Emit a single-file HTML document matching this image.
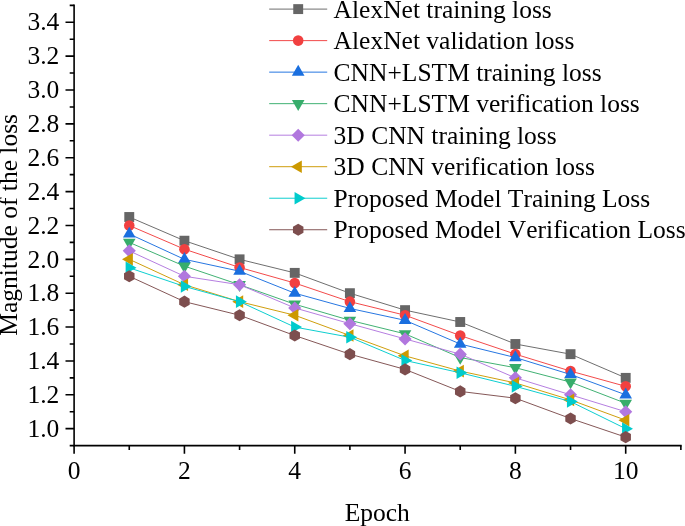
<!DOCTYPE html>
<html lang="en"><head><meta charset="utf-8"><title>Loss vs Epoch</title>
<style>html,body{margin:0;padding:0;background:#fff}body{width:685px;height:526px;overflow:hidden}svg{display:block}</style>
</head><body>
<svg width="685" height="526" viewBox="0 0 685 526" font-family="'Liberation Serif', serif" font-size="25.5px" fill="#000" style="font-kerning:none">
<rect width="685" height="526" fill="#fff"/>
<g><polyline points="129.26,217 184.42,240.71 239.58,259.34 294.74,272.88 349.9,293.2 405.06,310.14 460.22,321.99 515.38,344 570.54,354.16 625.7,377.87" fill="none" stroke="#666666" stroke-width="0.95"/>
<rect x="124.31" y="212.05" width="9.9" height="9.9" fill="#666666"/>
<rect x="179.47" y="235.76" width="9.9" height="9.9" fill="#666666"/>
<rect x="234.63" y="254.39" width="9.9" height="9.9" fill="#666666"/>
<rect x="289.79" y="267.93" width="9.9" height="9.9" fill="#666666"/>
<rect x="344.95" y="288.25" width="9.9" height="9.9" fill="#666666"/>
<rect x="400.11" y="305.19" width="9.9" height="9.9" fill="#666666"/>
<rect x="455.27" y="317.04" width="9.9" height="9.9" fill="#666666"/>
<rect x="510.43" y="339.05" width="9.9" height="9.9" fill="#666666"/>
<rect x="565.59" y="349.21" width="9.9" height="9.9" fill="#666666"/>
<rect x="620.75" y="372.92" width="9.9" height="9.9" fill="#666666"/>
</g>
<g><polyline points="129.26,225.47 184.42,249.18 239.58,267.46 294.74,283.04 349.9,301.67 405.06,315.22 460.22,335.54 515.38,354.16 570.54,371.09 625.7,386.33" fill="none" stroke="#F14040" stroke-width="0.95"/>
<circle cx="129.26" cy="225.47" r="5.3" fill="#F14040"/>
<circle cx="184.42" cy="249.18" r="5.3" fill="#F14040"/>
<circle cx="239.58" cy="267.46" r="5.3" fill="#F14040"/>
<circle cx="294.74" cy="283.04" r="5.3" fill="#F14040"/>
<circle cx="349.9" cy="301.67" r="5.3" fill="#F14040"/>
<circle cx="405.06" cy="315.22" r="5.3" fill="#F14040"/>
<circle cx="460.22" cy="335.54" r="5.3" fill="#F14040"/>
<circle cx="515.38" cy="354.16" r="5.3" fill="#F14040"/>
<circle cx="570.54" cy="371.09" r="5.3" fill="#F14040"/>
<circle cx="625.7" cy="386.33" r="5.3" fill="#F14040"/>
</g>
<g><polyline points="129.26,233.94 184.42,259.34 239.58,271.19 294.74,293.2 349.9,308.44 405.06,320.3 460.22,344 515.38,357.55 570.54,374.48 625.7,394.8" fill="none" stroke="#1A6FDF" stroke-width="0.95"/>
<polygon points="129.26,226.67 122.96,237.57 135.56,237.57" fill="#1A6FDF"/>
<polygon points="184.42,252.07 178.12,262.97 190.72,262.97" fill="#1A6FDF"/>
<polygon points="239.58,263.92 233.28,274.82 245.88,274.82" fill="#1A6FDF"/>
<polygon points="294.74,285.94 288.44,296.84 301.04,296.84" fill="#1A6FDF"/>
<polygon points="349.9,301.18 343.6,312.08 356.2,312.08" fill="#1A6FDF"/>
<polygon points="405.06,313.03 398.76,323.93 411.36,323.93" fill="#1A6FDF"/>
<polygon points="460.22,336.74 453.92,347.64 466.52,347.64" fill="#1A6FDF"/>
<polygon points="515.38,350.28 509.08,361.18 521.68,361.18" fill="#1A6FDF"/>
<polygon points="570.54,367.21 564.24,378.11 576.84,378.11" fill="#1A6FDF"/>
<polygon points="625.7,387.53 619.4,398.43 632,398.43" fill="#1A6FDF"/>
</g>
<g><polyline points="129.26,242.4 184.42,266.11 239.58,284.74 294.74,304.21 349.9,320.3 405.06,333.84 460.22,357.55 515.38,367.71 570.54,382.1 625.7,403.27" fill="none" stroke="#37AD6B" stroke-width="0.95"/>
<polygon points="129.26,249.67 122.96,238.77 135.56,238.77" fill="#37AD6B"/>
<polygon points="184.42,273.38 178.12,262.48 190.72,262.48" fill="#37AD6B"/>
<polygon points="239.58,292 233.28,281.1 245.88,281.1" fill="#37AD6B"/>
<polygon points="294.74,311.48 288.44,300.58 301.04,300.58" fill="#37AD6B"/>
<polygon points="349.9,327.56 343.6,316.66 356.2,316.66" fill="#37AD6B"/>
<polygon points="405.06,341.11 398.76,330.21 411.36,330.21" fill="#37AD6B"/>
<polygon points="460.22,364.82 453.92,353.92 466.52,353.92" fill="#37AD6B"/>
<polygon points="515.38,374.97 509.08,364.07 521.68,364.07" fill="#37AD6B"/>
<polygon points="570.54,389.37 564.24,378.47 576.84,378.47" fill="#37AD6B"/>
<polygon points="625.7,410.53 619.4,399.63 632,399.63" fill="#37AD6B"/>
</g>
<g><polyline points="129.26,250.87 184.42,276.27 239.58,284.74 294.74,307.93 349.9,323.68 405.06,338.92 460.22,354.16 515.38,377.87 570.54,394.8 625.7,411.73" fill="none" stroke="#B177DE" stroke-width="0.95"/>
<polygon points="129.26,244.32 135.81,250.87 129.26,257.42 122.71,250.87" fill="#B177DE"/>
<polygon points="184.42,269.72 190.97,276.27 184.42,282.82 177.87,276.27" fill="#B177DE"/>
<polygon points="239.58,278.19 246.13,284.74 239.58,291.29 233.03,284.74" fill="#B177DE"/>
<polygon points="294.74,301.38 301.29,307.93 294.74,314.48 288.19,307.93" fill="#B177DE"/>
<polygon points="349.9,317.13 356.45,323.68 349.9,330.23 343.35,323.68" fill="#B177DE"/>
<polygon points="405.06,332.37 411.61,338.92 405.06,345.47 398.51,338.92" fill="#B177DE"/>
<polygon points="460.22,347.61 466.77,354.16 460.22,360.71 453.67,354.16" fill="#B177DE"/>
<polygon points="515.38,371.32 521.93,377.87 515.38,384.42 508.83,377.87" fill="#B177DE"/>
<polygon points="570.54,388.25 577.09,394.8 570.54,401.35 563.99,394.8" fill="#B177DE"/>
<polygon points="625.7,405.18 632.25,411.73 625.7,418.28 619.15,411.73" fill="#B177DE"/>
</g>
<g><polyline points="129.26,259.34 184.42,284.74 239.58,301.67 294.74,315.22 349.9,335.54 405.06,355.86 460.22,371.09 515.38,382.95 570.54,399.88 625.7,420.2" fill="none" stroke="#CC9900" stroke-width="0.95"/>
<polygon points="121.99,259.34 132.89,253.04 132.89,265.64" fill="#CC9900"/>
<polygon points="177.15,284.74 188.05,278.44 188.05,291.04" fill="#CC9900"/>
<polygon points="232.31,301.67 243.21,295.37 243.21,307.97" fill="#CC9900"/>
<polygon points="287.47,315.22 298.37,308.92 298.37,321.52" fill="#CC9900"/>
<polygon points="342.63,335.54 353.53,329.24 353.53,341.84" fill="#CC9900"/>
<polygon points="397.79,355.86 408.69,349.56 408.69,362.16" fill="#CC9900"/>
<polygon points="452.95,371.09 463.85,364.79 463.85,377.39" fill="#CC9900"/>
<polygon points="508.11,382.95 519.01,376.65 519.01,389.25" fill="#CC9900"/>
<polygon points="563.27,399.88 574.17,393.58 574.17,406.18" fill="#CC9900"/>
<polygon points="618.43,420.2 629.33,413.9 629.33,426.5" fill="#CC9900"/>
</g>
<g><polyline points="129.26,267.8 184.42,286.43 239.58,301.67 294.74,327.07 349.9,337.23 405.06,360.43 460.22,372.79 515.38,386.33 570.54,401.57 625.7,428.67" fill="none" stroke="#00CBCC" stroke-width="0.95"/>
<polygon points="136.53,267.8 125.63,261.5 125.63,274.1" fill="#00CBCC"/>
<polygon points="191.69,286.43 180.79,280.13 180.79,292.73" fill="#00CBCC"/>
<polygon points="246.85,301.67 235.95,295.37 235.95,307.97" fill="#00CBCC"/>
<polygon points="302.01,327.07 291.11,320.77 291.11,333.37" fill="#00CBCC"/>
<polygon points="357.17,337.23 346.27,330.93 346.27,343.53" fill="#00CBCC"/>
<polygon points="412.33,360.43 401.43,354.13 401.43,366.73" fill="#00CBCC"/>
<polygon points="467.49,372.79 456.59,366.49 456.59,379.09" fill="#00CBCC"/>
<polygon points="522.65,386.33 511.75,380.03 511.75,392.63" fill="#00CBCC"/>
<polygon points="577.81,401.57 566.91,395.27 566.91,407.87" fill="#00CBCC"/>
<polygon points="632.97,428.67 622.07,422.37 622.07,434.97" fill="#00CBCC"/>
</g>
<g><polyline points="129.26,276.27 184.42,301.67 239.58,315.22 294.74,335.54 349.9,354.16 405.06,369.4 460.22,391.41 515.38,398.19 570.54,418.51 625.7,437.13" fill="none" stroke="#7D4E4E" stroke-width="0.95"/>
<polygon points="129.26,270.22 134.5,273.25 134.5,279.3 129.26,282.32 124.02,279.3 124.02,273.25" fill="#7D4E4E"/>
<polygon points="184.42,295.62 189.66,298.64 189.66,304.69 184.42,307.72 179.18,304.69 179.18,298.64" fill="#7D4E4E"/>
<polygon points="239.58,309.17 244.82,312.19 244.82,318.24 239.58,321.27 234.34,318.24 234.34,312.19" fill="#7D4E4E"/>
<polygon points="294.74,329.49 299.98,332.51 299.98,338.56 294.74,341.59 289.5,338.56 289.5,332.51" fill="#7D4E4E"/>
<polygon points="349.9,348.11 355.14,351.14 355.14,357.19 349.9,360.21 344.66,357.19 344.66,351.14" fill="#7D4E4E"/>
<polygon points="405.06,363.35 410.3,366.38 410.3,372.43 405.06,375.45 399.82,372.43 399.82,366.38" fill="#7D4E4E"/>
<polygon points="460.22,385.36 465.46,388.39 465.46,394.44 460.22,397.46 454.98,394.44 454.98,388.39" fill="#7D4E4E"/>
<polygon points="515.38,392.14 520.62,395.16 520.62,401.21 515.38,404.24 510.14,401.21 510.14,395.16" fill="#7D4E4E"/>
<polygon points="570.54,412.46 575.78,415.48 575.78,421.53 570.54,424.56 565.3,421.53 565.3,415.48" fill="#7D4E4E"/>
<polygon points="625.7,431.08 630.94,434.11 630.94,440.16 625.7,443.18 620.46,440.16 620.46,434.11" fill="#7D4E4E"/>
</g>
<g stroke="#000" stroke-width="1.6" fill="none">
<path d="M74.1 4.54V446.4M73.3 445.6H681.66"/>
<path d="M74.1 445.6h-4.4M74.1 428.67h-8.6M74.1 411.73h-4.4M74.1 394.8h-8.6M74.1 377.87h-4.4M74.1 360.94h-8.6M74.1 344h-4.4M74.1 327.07h-8.6M74.1 310.14h-4.4M74.1 293.2h-8.6M74.1 276.27h-4.4M74.1 259.34h-8.6M74.1 242.4h-4.4M74.1 225.47h-8.6M74.1 208.54h-4.4M74.1 191.61h-8.6M74.1 174.67h-4.4M74.1 157.74h-8.6M74.1 140.81h-4.4M74.1 123.87h-8.6M74.1 106.94h-4.4M74.1 90.01h-8.6M74.1 73.07h-4.4M74.1 56.14h-8.6M74.1 39.21h-4.4M74.1 22.27h-8.6M74.1 5.34h-4.4M74.1 445.6v8.2M129.26 445.6v4.4M184.42 445.6v8.2M239.58 445.6v4.4M294.74 445.6v8.2M349.9 445.6v4.4M405.06 445.6v8.2M460.22 445.6v4.4M515.38 445.6v8.2M570.54 445.6v4.4M625.7 445.6v8.2M680.86 445.6v4.4"/>
</g>
<g text-anchor="end">
<text x="59.3" y="436.87">1.0</text>
<text x="59.3" y="403">1.2</text>
<text x="59.3" y="369.14">1.4</text>
<text x="59.3" y="335.27">1.6</text>
<text x="59.3" y="301.4">1.8</text>
<text x="59.3" y="267.54">2.0</text>
<text x="59.3" y="233.67">2.2</text>
<text x="59.3" y="199.81">2.4</text>
<text x="59.3" y="165.94">2.6</text>
<text x="59.3" y="132.07">2.8</text>
<text x="59.3" y="98.21">3.0</text>
<text x="59.3" y="64.34">3.2</text>
<text x="59.3" y="30.47">3.4</text>
</g>
<g text-anchor="middle">
<text x="74.1" y="479.4">0</text>
<text x="184.42" y="479.4">2</text>
<text x="294.74" y="479.4">4</text>
<text x="405.06" y="479.4">6</text>
<text x="515.38" y="479.4">8</text>
<text x="625.7" y="479.4">10</text>
</g>
<text x="377.3" y="520.5" text-anchor="middle">Epoch</text>
<text transform="translate(17.4 224.8) rotate(-90)" text-anchor="middle">Magnitude of the loss</text>
<g><line x1="269.2" x2="327.2" y1="9.1" y2="9.1" stroke="#666666" stroke-width="0.95"/>
<rect x="293.25" y="4.15" width="9.9" height="9.9" fill="#666666"/>
<text x="333.6" y="17.7">AlexNet training loss</text></g>
<g><line x1="269.2" x2="327.2" y1="40.62" y2="40.62" stroke="#F14040" stroke-width="0.95"/>
<circle cx="298.2" cy="40.62" r="5.3" fill="#F14040"/>
<text x="333.6" y="49.22">AlexNet validation loss</text></g>
<g><line x1="269.2" x2="327.2" y1="72.14" y2="72.14" stroke="#1A6FDF" stroke-width="0.95"/>
<polygon points="298.2,64.87 291.9,75.77 304.5,75.77" fill="#1A6FDF"/>
<text x="333.6" y="80.74">CNN+LSTM training loss</text></g>
<g><line x1="269.2" x2="327.2" y1="103.66" y2="103.66" stroke="#37AD6B" stroke-width="0.95"/>
<polygon points="298.2,110.93 291.9,100.03 304.5,100.03" fill="#37AD6B"/>
<text x="333.6" y="112.26">CNN+LSTM verification loss</text></g>
<g><line x1="269.2" x2="327.2" y1="135.18" y2="135.18" stroke="#B177DE" stroke-width="0.95"/>
<polygon points="298.2,128.63 304.75,135.18 298.2,141.73 291.65,135.18" fill="#B177DE"/>
<text x="333.6" y="143.78">3D CNN training loss</text></g>
<g><line x1="269.2" x2="327.2" y1="166.7" y2="166.7" stroke="#CC9900" stroke-width="0.95"/>
<polygon points="290.93,166.7 301.83,160.4 301.83,173" fill="#CC9900"/>
<text x="333.6" y="175.3">3D CNN verification loss</text></g>
<g><line x1="269.2" x2="327.2" y1="198.22" y2="198.22" stroke="#00CBCC" stroke-width="0.95"/>
<polygon points="305.47,198.22 294.57,191.92 294.57,204.52" fill="#00CBCC"/>
<text x="333.6" y="206.82">Proposed Model Training Loss</text></g>
<g><line x1="269.2" x2="327.2" y1="229.74" y2="229.74" stroke="#7D4E4E" stroke-width="0.95"/>
<polygon points="298.2,223.69 303.44,226.71 303.44,232.76 298.2,235.79 292.96,232.76 292.96,226.71" fill="#7D4E4E"/>
<text x="333.6" y="238.34">Proposed Model Verification Loss</text></g>
</svg>
</body></html>
